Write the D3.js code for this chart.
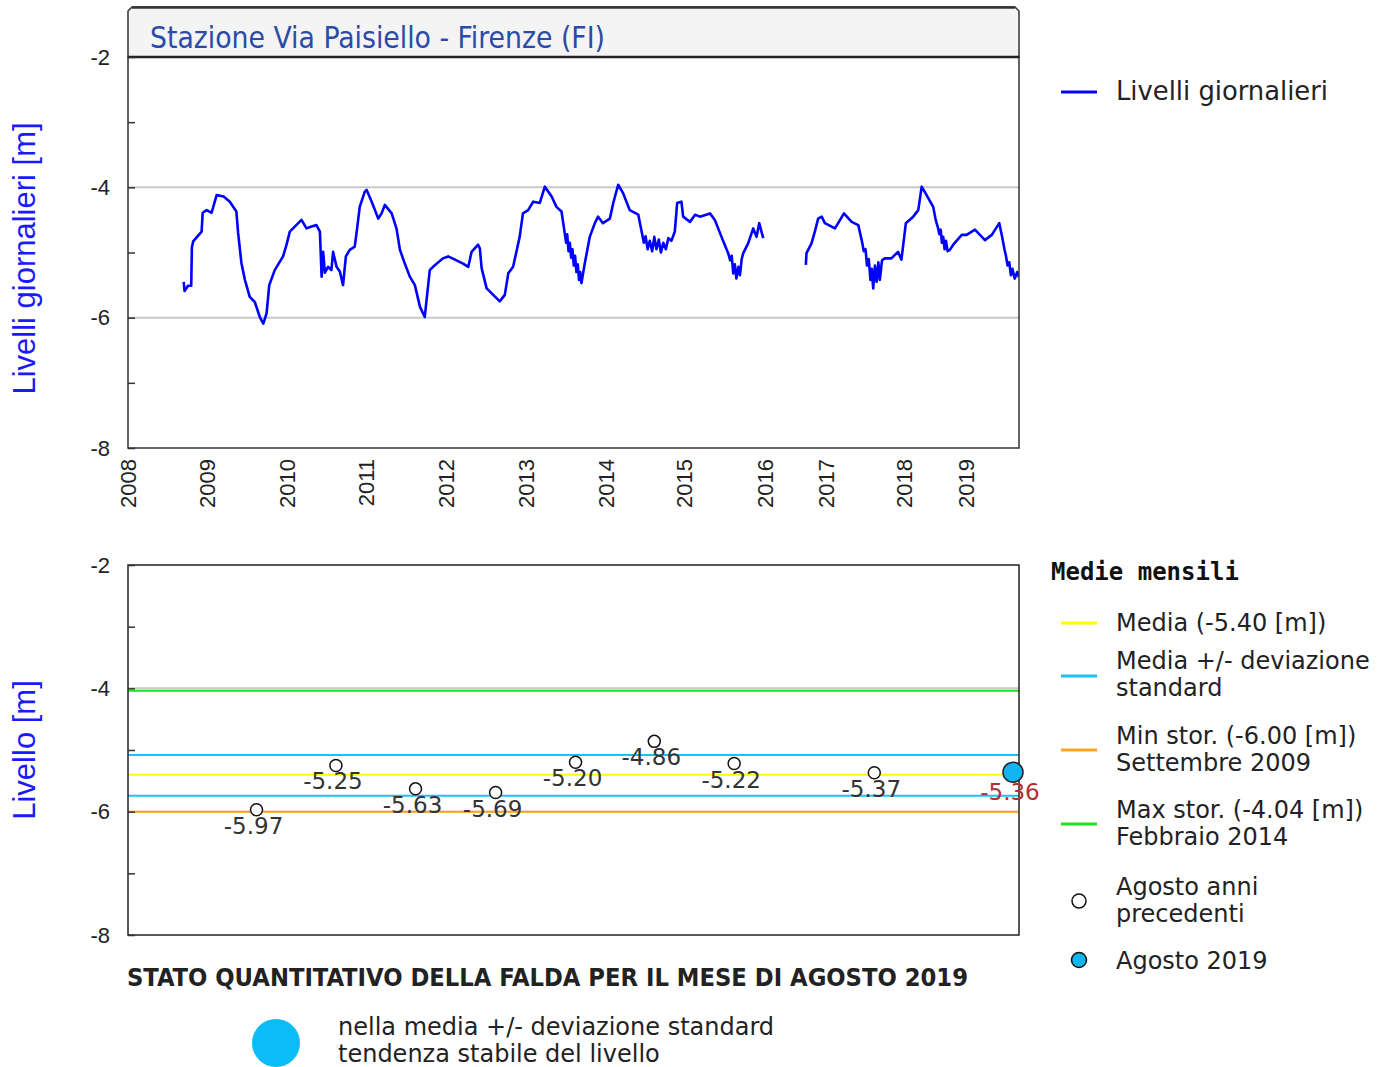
<!DOCTYPE html>
<html>
<head>
<meta charset="utf-8">
<script src="https://cdn.jsdelivr.net/npm/d3@7"></script>
<style>
  body { margin: 0; background: #fff; }
  svg { display: block; }
</style>
</head>
<body>
<div id="chart"></div>
<script>
// Daily levels [m]; two runs split by the 2016 data gap
var dates1 = ["2008-09-15","2008-09-19","2008-10-05","2008-10-20","2008-10-23","2008-10-29","2008-12-07","2008-12-12","2008-12-30",
  "2009-01-22","2009-02-14","2009-03-18","2009-04-15","2009-05-15","2009-05-23","2009-06-07","2009-06-23","2009-07-15","2009-08-07","2009-08-30","2009-09-15","2009-09-30","2009-10-12","2009-11-06","2009-12-14","2009-12-30",
  "2010-01-14","2010-01-29","2010-03-09","2010-04-01","2010-04-24","2010-05-17","2010-06-02","2010-06-10","2010-06-17","2010-06-25","2010-07-10","2010-07-25","2010-08-02","2010-08-18","2010-09-02","2010-09-17","2010-09-30","2010-10-18","2010-11-10","2010-11-21","2010-12-03","2010-12-26",
  "2011-01-04","2011-01-27","2011-02-26","2011-03-13","2011-03-28","2011-04-28","2011-05-20","2011-06-05","2011-06-27","2011-07-20","2011-08-12","2011-09-04","2011-09-26","2011-10-19","2011-11-03","2011-12-18",
  "2012-01-11","2012-02-11","2012-03-19","2012-04-12","2012-04-27","2012-05-27","2012-06-04","2012-06-12","2012-07-05","2012-08-04","2012-09-03","2012-09-26","2012-10-12","2012-11-03","2012-11-18","2012-12-03","2012-12-18",
  "2013-01-11","2013-02-03","2013-03-05","2013-03-28","2013-04-28","2013-05-20","2013-06-12","2013-06-27","2013-07-03","2013-07-08","2013-07-14","2013-07-20","2013-07-26","2013-08-01","2013-08-07","2013-08-13","2013-08-19","2013-08-25","2013-08-31","2013-09-05","2013-09-11","2013-09-26","2013-10-19","2013-11-11","2013-11-26","2013-12-18",
  "2014-01-19","2014-02-04","2014-02-27","2014-03-22","2014-04-22","2014-06-01","2014-06-17","2014-06-27","2014-07-05","2014-07-15","2014-07-25","2014-08-05","2014-08-15","2014-08-25","2014-09-05","2014-09-15","2014-09-26","2014-10-08","2014-10-20","2014-11-03","2014-11-19","2014-11-30","2014-12-20","2014-12-28",
  "2015-01-28","2015-02-20","2015-03-14","2015-04-28","2015-05-20","2015-06-19","2015-07-19","2015-07-28","2015-08-04","2015-08-11","2015-08-18","2015-08-25","2015-09-03","2015-09-10","2015-09-18","2015-09-25","2015-10-17","2015-11-09","2015-11-24","2015-12-06","2015-12-24"];
var levels1 = [-5.45,-5.59,-5.51,-5.51,-4.92,-4.83,-4.68,-4.39,-4.35,
  -4.39,-4.12,-4.14,-4.22,-4.37,-4.70,-5.16,-5.42,-5.68,-5.76,-5.99,-6.09,-5.93,-5.50,-5.27,-5.06,-4.88,
  -4.68,-4.63,-4.50,-4.63,-4.60,-4.58,-4.68,-5.37,-4.99,-5.31,-5.22,-5.27,-4.99,-5.22,-5.29,-5.50,-5.06,-4.96,-4.91,-4.63,-4.30,-4.07,
  -4.04,-4.22,-4.48,-4.40,-4.27,-4.40,-4.63,-4.96,-5.17,-5.37,-5.50,-5.83,-5.99,-5.27,-5.22,-5.09,
  -5.06,-5.11,-5.17,-5.22,-4.99,-4.88,-4.94,-5.24,-5.55,-5.65,-5.75,-5.65,-5.32,-5.22,-4.99,-4.76,-4.40,
  -4.35,-4.22,-4.24,-3.99,-4.14,-4.30,-4.37,-4.71,-4.85,-4.72,-4.98,-4.85,-5.08,-4.95,-5.20,-5.05,-5.30,-5.18,-5.42,-5.30,-5.47,-5.17,-4.76,-4.55,-4.45,-4.55,
  -4.48,-4.24,-3.96,-4.09,-4.35,-4.42,-4.68,-4.85,-4.75,-4.95,-4.82,-4.98,-4.76,-4.95,-4.80,-5.00,-4.85,-4.95,-4.78,-4.82,-4.68,-4.24,-4.22,-4.45,
  -4.53,-4.42,-4.45,-4.40,-4.50,-4.76,-5.01,-5.12,-5.05,-5.32,-5.18,-5.40,-5.22,-5.35,-5.10,-5.01,-4.86,-4.63,-4.76,-4.55,-4.78];

var dates2 = ["2016-09-02","2016-09-06","2016-10-06","2016-10-26","2016-11-15","2016-12-06","2016-12-25",
  "2017-02-12","2017-03-08","2017-03-26","2017-05-01","2017-06-01","2017-06-17","2017-06-27","2017-07-05","2017-07-12","2017-07-20","2017-07-28","2017-08-03","2017-08-10","2017-08-18","2017-08-26","2017-09-03","2017-09-10","2017-09-20","2017-10-03","2017-11-03","2017-12-04","2017-12-20",
  "2018-01-12","2018-02-24","2018-03-26","2018-04-15","2018-05-14","2018-06-22","2018-07-05","2018-07-12","2018-07-20","2018-07-28","2018-08-05","2018-08-12","2018-08-20","2018-08-28","2018-09-05","2018-09-15","2018-09-28","2018-10-18","2018-12-07",
  "2019-01-04","2019-02-13","2019-04-02","2019-05-05","2019-06-10","2019-06-22","2019-07-05","2019-07-12","2019-07-20","2019-07-28","2019-08-05","2019-08-12","2019-08-20","2019-08-27","2019-09-01"];
var levels2 = [-5.19,-5.01,-4.86,-4.68,-4.48,-4.45,-4.55,
  -4.63,-4.50,-4.40,-4.53,-4.58,-4.81,-4.98,-4.95,-5.20,-5.10,-5.42,-5.25,-5.55,-5.20,-5.45,-5.15,-5.42,-5.12,-5.09,-5.09,-4.99,-5.11,
  -4.55,-4.45,-4.35,-3.99,-4.12,-4.30,-4.48,-4.55,-4.62,-4.72,-4.65,-4.85,-4.76,-4.95,-4.82,-4.98,-4.96,-4.88,-4.73,
  -4.73,-4.65,-4.81,-4.73,-4.55,-4.73,-4.95,-5.05,-5.20,-5.15,-5.35,-5.25,-5.40,-5.30,-5.38];

// August monthly means of previous years, and the current one
var augYears = [2009, 2010, 2011, 2012, 2013, 2014, 2015, 2017];
var augLevels = [-5.97, -5.25, -5.63, -5.69, -5.20, -4.86, -5.22, -5.37];
var currentYear = 2019;
var currentLevel = -5.36;

// reference lines of the monthly chart
var refNames = ["max", "sdUp", "mean", "sdDown", "min"];
var refValues = [-4.04, -5.08, -5.40, -5.74, -6.00];

var yearTicks = [2008, 2009, 2010, 2011, 2012, 2013, 2014, 2015, 2016, 2017, 2018, 2019];
var yTickValues = [-8, -6, -4, -2];

// ---- layout ----
var svgWidth = 1393, svgHeight = 1067;
var left = 128, right = 1019;
var top1 = 57, bottom1 = 448, top2 = 565, bottom2 = 935;
// the source chart spaces its years unevenly, so the time scale is piecewise
var xBreakPx = [128, 207, 287, 366, 446, 526, 606, 684, 765, 826, 904, 966, 1013, 1019];

var colors = { line: "#0000ff", max: "#22e022", sdUp: "#1ec0f5", mean: "#ffff00", sdDown: "#1ec0f5", min: "#ffa31a", grid: "#c8c8c8" };

var svg = d3.select("#chart").append("svg")
  .attr("width", svgWidth)
  .attr("height", svgHeight);

var parse = d3.timeParse("%Y-%m-%d");
var xDomain = yearTicks.map(y => new Date(y, 0, 1)).concat([new Date(2019, 7, 15), new Date(2019, 8, 1)]);
var x = d3.scaleTime().domain(xDomain).range(xBreakPx);

var yTop = d3.scaleLinear().domain([-8, -2]).range([bottom1, top1]);
var yBot = d3.scaleLinear().domain([-8, -2]).range([bottom2, top2]);

// plain hyphen minus, like the source
var fmt = d3.formatLocale({ decimal: ".", thousands: ",", grouping: [3], currency: ["", ""], minus: "-" }).format;
var fmt2 = fmt(".2f");

var axisFont = "'Liberation Sans', Arial, sans-serif";
var textFont = "'DejaVu Sans', Verdana, sans-serif";
var narrowFont = "'Liberation Sans Narrow', 'DejaVu Sans Condensed', sans-serif";

// ===== TOP CHART =====
// header box with cut corners
svg.append("path")
  .attr("d", `M${left},${top1} L${left},11 L${left + 4},7 L${right - 4},7 L${right},11 L${right},${top1} Z`)
  .attr("fill", "#f4f4f4")
  .attr("stroke", "#333")
  .attr("stroke-width", 1.5);
svg.append("line")
  .attr("x1", left + 4).attr("x2", right - 4).attr("y1", 7.5).attr("y2", 7.5)
  .attr("stroke", "#333").attr("stroke-width", 2.5);

svg.append("text")
  .attr("x", 150).attr("y", 48)
  .attr("font-family", narrowFont)
  .attr("font-size", 30)
  .attr("fill", "#2b4ba8")
  .attr("textLength", 455)
  .attr("lengthAdjust", "spacingAndGlyphs")
  .text("Stazione Via Paisiello - Firenze (FI)");

// gridlines
svg.append("g").selectAll("line")
  .data([-4, -6])
  .enter().append("line")
  .attr("x1", left).attr("x2", right)
  .attr("y1", d => yTop(d)).attr("y2", d => yTop(d))
  .attr("stroke", colors.grid).attr("stroke-width", 2);

// clip + series
svg.append("clipPath").attr("id", "clipTop")
  .append("rect").attr("x", left).attr("y", top1).attr("width", right - left).attr("height", bottom1 - top1);

var line = d3.line()
  .x(d => x(d.date))
  .y(d => yTop(d.v));

[[dates1, levels1], [dates2, levels2]].forEach(function(run) {
  var pts = run[0].map((d, i) => ({ date: parse(d), v: run[1][i] }));
  svg.append("path")
    .datum(pts)
    .attr("clip-path", "url(#clipTop)")
    .attr("fill", "none")
    .attr("stroke", colors.line)
    .attr("stroke-width", 2.6)
    .attr("stroke-linejoin", "round")
    .attr("d", line);
});

// frame
svg.append("rect")
  .attr("x", left).attr("y", top1)
  .attr("width", right - left).attr("height", bottom1 - top1)
  .attr("fill", "none").attr("stroke", "#333").attr("stroke-width", 1.5);
svg.append("line")
  .attr("x1", left).attr("x2", right).attr("y1", top1).attr("y2", top1)
  .attr("stroke", "#222").attr("stroke-width", 2.5);

// y axis ticks (inside) and labels
function drawYAxis(scale) {
  var gt = svg.append("g")
    .attr("transform", `translate(${left},0)`)
    .call(d3.axisRight(scale).tickValues(d3.range(-8, -1, 1)).tickSize(7).tickFormat(""));
  gt.select(".domain").remove();
  gt.selectAll(".tick line").attr("stroke", "#333").attr("stroke-width", 1.5);

  var gl = svg.append("g")
    .attr("transform", `translate(${left},0)`)
    .call(d3.axisLeft(scale).tickValues(yTickValues).tickSize(0).tickPadding(18).tickFormat(fmt("d")));
  gl.select(".domain").remove();
  gl.selectAll("text")
    .attr("font-family", axisFont)
    .attr("font-size", 22)
    .attr("fill", "#222");
}
drawYAxis(yTop);

// x axis year labels
var gx = svg.append("g")
  .attr("transform", `translate(0,${bottom1})`)
  .call(d3.axisBottom(x)
    .tickValues(yearTicks.map(y => new Date(y, 0, 1)))
    .tickSize(0)
    .tickFormat(d3.timeFormat("%Y")));
gx.select(".domain").remove();
gx.selectAll("text")
  .attr("transform", "rotate(-90)")
  .attr("x", -11)
  .attr("y", 0)
  .attr("dy", "0.35em")
  .attr("text-anchor", "end")
  .attr("font-family", axisFont)
  .attr("font-size", 22)
  .attr("fill", "#222");

// y title
svg.append("text")
  .attr("transform", `translate(35,${(top1 + bottom1) / 2 + 6}) rotate(-90)`)
  .attr("text-anchor", "middle")
  .attr("font-family", axisFont)
  .attr("font-size", 31)
  .attr("fill", "#1a1aff")
  .text("Livelli giornalieri [m]");

// legend
svg.append("line")
  .attr("x1", 1061).attr("x2", 1097).attr("y1", 92).attr("y2", 92)
  .attr("stroke", colors.line).attr("stroke-width", 3);
svg.append("text")
  .attr("x", 1116).attr("y", 100)
  .attr("font-family", narrowFont)
  .attr("font-size", 27)
  .attr("fill", "#222")
  .attr("textLength", 212)
  .attr("lengthAdjust", "spacingAndGlyphs")
  .text("Livelli giornalieri");

// ===== BOTTOM CHART =====
svg.append("g").selectAll("line")
  .data([-4, -6])
  .enter().append("line")
  .attr("x1", left).attr("x2", right)
  .attr("y1", d => yBot(d)).attr("y2", d => yBot(d))
  .attr("stroke", colors.grid).attr("stroke-width", 2);

svg.append("g").selectAll("line")
  .data(refValues)
  .enter().append("line")
  .attr("x1", left).attr("x2", right)
  .attr("y1", d => yBot(d)).attr("y2", d => yBot(d))
  .attr("stroke", (d, i) => colors[refNames[i]])
  .attr("stroke-width", 2);

svg.append("rect")
  .attr("x", left).attr("y", top2)
  .attr("width", right - left).attr("height", bottom2 - top2)
  .attr("fill", "none").attr("stroke", "#222").attr("stroke-width", 1.5);

drawYAxis(yBot);

svg.append("text")
  .attr("transform", `translate(35,${(top2 + bottom2) / 2}) rotate(-90)`)
  .attr("text-anchor", "middle")
  .attr("font-family", axisFont)
  .attr("font-size", 31)
  .attr("fill", "#1a1aff")
  .text("Livello [m]");

var augDates = augYears.map(y => new Date(y, 7, 15));

svg.append("g").selectAll("circle")
  .data(augLevels)
  .enter().append("circle")
  .attr("cx", (d, i) => x(augDates[i]))
  .attr("cy", d => yBot(d))
  .attr("r", 6)
  .attr("fill", "#fff")
  .attr("stroke", "#111")
  .attr("stroke-width", 1.5);

svg.append("g").selectAll("text")
  .data(augLevels)
  .enter().append("text")
  .attr("x", (d, i) => x(augDates[i]) - 3)
  .attr("y", d => yBot(d) + 24)
  .attr("text-anchor", "middle")
  .attr("font-family", textFont)
  .attr("font-size", 23)
  .attr("fill", "#333")
  .text(d => fmt2(d));

var curDate = new Date(currentYear, 7, 15);
svg.append("circle")
  .attr("cx", x(curDate))
  .attr("cy", yBot(currentLevel))
  .attr("r", 10)
  .attr("fill", "#12b5f0")
  .attr("stroke", "#222")
  .attr("stroke-width", 1.5);
svg.append("text")
  .attr("x", x(curDate) - 3)
  .attr("y", yBot(currentLevel) + 28)
  .attr("text-anchor", "middle")
  .attr("font-family", textFont)
  .attr("font-size", 23)
  .attr("fill", "#b03030")
  .text(fmt2(currentLevel));

// legend of the monthly chart
svg.append("text")
  .attr("x", 1051).attr("y", 580)
  .attr("font-family", "'DejaVu Sans Mono', monospace")
  .attr("font-weight", "bold")
  .attr("font-size", 24)
  .attr("fill", "#111")
  .text("Medie mensili");

var legendItems = [
  { key: "mean", ly: 623, lines: ["Media (-5.40 [m])"], ty: 631 },
  { key: "sdUp", ly: 676, lines: ["Media +/- deviazione", "standard"], ty: 669 },
  { key: "min", ly: 750, lines: ["Min stor. (-6.00 [m])", "Settembre 2009"], ty: 744 },
  { key: "max", ly: 824, lines: ["Max stor. (-4.04 [m])", "Febbraio 2014"], ty: 818 }
];
legendItems.forEach(function(it) {
  svg.append("line")
    .attr("x1", 1061).attr("x2", 1097).attr("y1", it.ly).attr("y2", it.ly)
    .attr("stroke", colors[it.key]).attr("stroke-width", 3);
  it.lines.forEach(function(t, j) {
    svg.append("text")
      .attr("x", 1116).attr("y", it.ty + j * 27)
      .attr("font-family", textFont)
      .attr("font-size", 24)
      .attr("fill", "#222")
      .text(t);
  });
});

svg.append("circle")
  .attr("cx", 1079).attr("cy", 901).attr("r", 7)
  .attr("fill", "#fff").attr("stroke", "#111").attr("stroke-width", 1.5);
svg.append("text").attr("x", 1116).attr("y", 895)
  .attr("font-family", textFont).attr("font-size", 24).attr("fill", "#222").text("Agosto anni");
svg.append("text").attr("x", 1116).attr("y", 922)
  .attr("font-family", textFont).attr("font-size", 24).attr("fill", "#222").text("precedenti");
svg.append("circle")
  .attr("cx", 1079).attr("cy", 960).attr("r", 7.5)
  .attr("fill", "#12b5f0").attr("stroke", "#111").attr("stroke-width", 1.5);
svg.append("text").attr("x", 1116).attr("y", 969)
  .attr("font-family", textFont).attr("font-size", 24).attr("fill", "#222").text("Agosto " + currentYear);

// ===== STATUS FOOTER =====
svg.append("text")
  .attr("x", 127).attr("y", 986)
  .attr("font-family", "'DejaVu Sans Condensed', 'DejaVu Sans', sans-serif")
  .attr("font-weight", "bold")
  .attr("font-size", 24)
  .attr("fill", "#222")
  .attr("textLength", 841)
  .attr("lengthAdjust", "spacingAndGlyphs")
  .text("STATO QUANTITATIVO DELLA FALDA PER IL MESE DI AGOSTO " + currentYear);

svg.append("circle")
  .attr("cx", 276).attr("cy", 1043).attr("r", 24)
  .attr("fill", "#0cbcf6");
svg.append("text").attr("x", 338).attr("y", 1035)
  .attr("font-family", textFont).attr("font-size", 24).attr("fill", "#222")
  .text("nella media +/- deviazione standard");
svg.append("text").attr("x", 338).attr("y", 1062)
  .attr("font-family", textFont).attr("font-size", 24).attr("fill", "#222")
  .text("tendenza stabile del livello");
</script>
</body>
</html>
